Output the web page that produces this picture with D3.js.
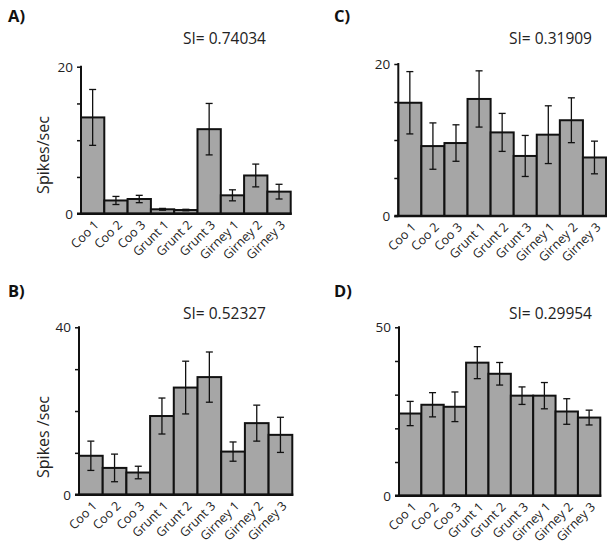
<!DOCTYPE html>
<html><head><meta charset="utf-8">
<script src="https://cdn.jsdelivr.net/npm/d3@7/dist/d3.min.js"></script>
<style>
body{margin:0;background:#fff;}
svg{display:block;font-family:"Open Sans",sans-serif;}
</style></head>
<body>
<svg id="chart" width="615" height="550"></svg>
<script>
// ---- data ----
const categories = ["Coo 1","Coo 2","Coo 3","Grunt 1","Grunt 2","Grunt 3","Girney 1","Girney 2","Girney 3"];

const valuesA = [13.1, 1.8, 2.0, 0.6, 0.5, 11.5, 2.5, 5.2, 3.0];
const errorsA = [3.8, 0.55, 0.5, 0.12, 0.1, 3.5, 0.75, 1.55, 1.0];

const valuesB = [9.3, 6.4, 5.3, 18.8, 25.6, 28.1, 10.3, 17.1, 14.3];
const errorsB = [3.5, 3.3, 1.5, 4.3, 6.3, 6.0, 2.3, 4.3, 4.2];

const valuesC = [14.9, 9.2, 9.6, 15.4, 11.0, 7.9, 10.7, 12.6, 7.7];
const errorsC = [4.1, 3.05, 2.4, 3.7, 2.5, 2.7, 3.8, 2.95, 2.15];

const valuesD = [24.4, 27.0, 26.4, 39.5, 36.2, 29.7, 29.7, 25.0, 23.2];
const errorsD = [3.6, 3.6, 4.4, 4.75, 3.35, 2.6, 3.9, 3.8, 2.2];

const panelLabels = ["A)", "B)", "C)", "D)"];
const siLabels = ["SI= 0.74034", "SI= 0.52327", "SI= 0.31909", "SI= 0.29954"];
const yLabels = ["Spikes/sec", "Spikes /sec", "", ""];
const yMaxes = [20, 40, 20, 50];
const yTickValues = [[0,5,10,15,20],[0,10,20,30,40],[0,5,10,15,20],[0,10,20,30,40,50]];
const yTickLabels = [["0","20"],["0","40"],["0","20"],["0","50"]];

// ---- layout ----
const panels = [
  {vals: valuesA, errs: errorsA, x0: 81, x1: 290.7, yTop: 66.7, yBot: 213.7, lx: 8, ly: 22, sx: 183, sy: 44, ylx: 49, yly: 155},
  {vals: valuesB, errs: errorsB, x0: 79, x1: 292.3, yTop: 327.3, yBot: 494.7, lx: 8, ly: 297, sx: 183, sy: 319, ylx: 49, yly: 437},
  {vals: valuesC, errs: errorsC, x0: 398.3, x1: 606, yTop: 64, yBot: 216, lx: 334, ly: 22, sx: 509, sy: 44, ylx: 0, yly: 0},
  {vals: valuesD, errs: errorsD, x0: 399, x1: 600.3, yTop: 327.3, yBot: 495.7, lx: 334, ly: 297, sx: 509, sy: 319, ylx: 0, yly: 0}
];

const svg = d3.select("#chart");

panels.forEach((p, i) => {
  const g = svg.append("g");
  const x = d3.scaleBand().domain(categories).range([p.x0, p.x1]).padding(0);
  const y = d3.scaleLinear().domain([0, yMaxes[i]]).range([p.yBot, p.yTop]);

  // bars
  g.selectAll("rect.bar").data(p.vals).join("rect")
    .attr("class", "bar")
    .attr("x", (d, j) => x(categories[j]))
    .attr("y", d => y(d))
    .attr("width", x.bandwidth())
    .attr("height", d => y(0) - y(d))
    .attr("fill", "#a6a6a6")
    .attr("stroke", "#111")
    .attr("stroke-width", 2);

  // error bars
  const eb = g.selectAll("g.err").data(p.vals).join("g").attr("class", "err")
    .attr("stroke", "#111").attr("stroke-width", 1.3);
  eb.append("line")
    .attr("x1", (d, j) => x(categories[j]) + x.bandwidth() / 2)
    .attr("x2", (d, j) => x(categories[j]) + x.bandwidth() / 2)
    .attr("y1", (d, j) => y(d + p.errs[j]))
    .attr("y2", (d, j) => y(Math.max(0, d - p.errs[j])));
  [1, -1].forEach(s => {
    eb.append("line")
      .attr("x1", (d, j) => x(categories[j]) + x.bandwidth() / 2 - 3.5)
      .attr("x2", (d, j) => x(categories[j]) + x.bandwidth() / 2 + 3.5)
      .attr("y1", (d, j) => y(Math.max(0, d + s * p.errs[j])))
      .attr("y2", (d, j) => y(Math.max(0, d + s * p.errs[j])));
  });

  // y axis
  const labelSet = yTickLabels[i];
  const yAxis = d3.axisLeft(y).tickValues(yTickValues[i]).tickSize(4).tickPadding(4)
    .tickFormat(v => labelSet.includes(String(v)) ? String(v) : "");
  const ya = g.append("g").attr("transform", `translate(${p.x0},0)`).call(yAxis);
  ya.select(".domain").remove();
  ya.selectAll(".tick line").attr("stroke", "#111").attr("stroke-width", 1.5);
  ya.selectAll(".tick text").attr("font-size", 13.5).attr("fill", "#222")
    .attr("font-family", "'Open Sans',sans-serif");
  g.append("line").attr("x1", p.x0).attr("x2", p.x0).attr("y1", p.yTop - 1).attr("y2", p.yBot)
    .attr("stroke", "#111").attr("stroke-width", 2);
  g.append("line").attr("x1", p.x0 - 4).attr("x2", p.x1 + 1).attr("y1", p.yBot).attr("y2", p.yBot)
    .attr("stroke", "#111").attr("stroke-width", 2.5);

  // x labels
  g.selectAll("text.xl").data(categories).join("text")
    .attr("class", "xl")
    .attr("text-anchor", "end")
    .attr("font-size", 12.5)
    .attr("fill", "#222")
    .attr("transform", d => `translate(${x(d) + x.bandwidth() / 2 + 7},${p.yBot + 12}) rotate(-45)`)
    .text(d => d);

  // panel label
  g.append("text").attr("x", p.lx).attr("y", p.ly).attr("font-size", 16.5).attr("font-weight", "bold")
    .attr("fill", "#111").text(panelLabels[i]);
  // SI
  g.append("text").attr("x", p.sx).attr("y", p.sy).attr("font-size", 15.5).attr("fill", "#222")
    .text(siLabels[i]);
  // y label
  if (yLabels[i]) {
    g.append("text").attr("transform", `translate(${p.ylx},${p.yly}) rotate(-90)`)
      .attr("text-anchor", "middle").attr("font-size", 16).attr("fill", "#222").text(yLabels[i]);
  }
});
</script>
</body></html>
